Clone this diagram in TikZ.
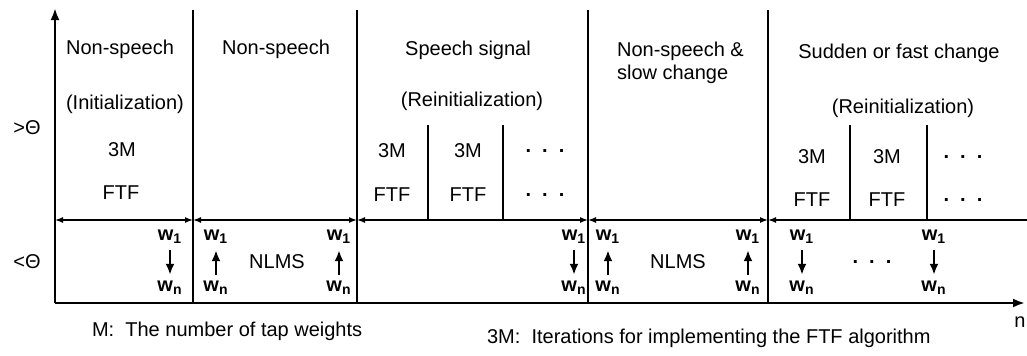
\documentclass[tikz,border=0pt]{standalone}
\usepackage{fontspec}
\setmainfont{Liberation Sans}
\usepackage{tikz}
\usetikzlibrary{arrows.meta}

\tikzset{
  axis/.style={line width=1.3pt, -{Latex[length=6pt,width=4.5pt]}},
  divider/.style={line width=1.3pt},
  span/.style={line width=0.7pt, {Latex[length=4pt,width=3pt]}-{Latex[length=4pt,width=3pt]}},
  wlabel/.style={font=\bfseries, inner sep=0.5pt},
  wstep/.style={line width=1.4pt, -{Latex[length=5.5pt,width=4.5pt]}, shorten <=2.5pt, shorten >=2.5pt},
  dots/.style={font=\bfseries, inner sep=0pt},
}

\begin{document}
\begin{tikzpicture}[x=0.5pt, y=-0.5pt, font=\fontsize{10}{11.5}\selectfont]
\useasboundingbox (0,0) rectangle (1027,355);
\draw [axis] (55,303) -- (55,8);
\draw [axis] (55,303) -- (1025,303);
\node (n) at (1027,322) [anchor=east, inner sep=0.5pt] {n};
\foreach \x in {193,357,588,768}
\draw [divider] (\x,10) -- (\x,303);
\foreach \x in {428,503,850,927}
\draw [divider] (\x,125) -- (\x,220);
\draw [span] (55,220) -- (193,220);
\draw [span] (193,220) -- (357,220);
\draw [span] (357,220) -- (588,220);
\draw [span] (588,220) -- (768,220);
\draw [line width=0.7pt, {Latex[length=4pt,width=3pt]}-] (768,220) -- (1027,220);
\node (above) at (27,128) {>Θ};
\node (below) at (27,262) {<Θ};
% upper row
\node (ns1) at (120,49) {Non-speech};
\node (init) at (125,104) {(Initialization)};
\node (m1) at (122,150) {3M};
\node (f1) at (121,193) {FTF};
\node (ns2) at (276,49) {Non-speech};
\node (sp) at (468,50) {Speech signal};
\node (reinit1) at (472,101) {(Reinitialization)};
\node (m2) at (392,151) {3M};
\node (m3) at (468,151) {3M};
\node [dots] (d1) at (545,151) {.~~.~~.};
\node (f2) at (392,195) {FTF};
\node (f3) at (468,195) {FTF};
\node [dots] (d2) at (545,195) {.~~.~~.};
\node (ns3) at (610,63) [anchor=west, align=left] {Non-speech \&\\slow change};
\node (sud) at (899,53) {Sudden or fast change};
\node (reinit2) at (903,108) {(Reinitialization)};
\node (m4) at (812,157) {3M};
\node (m5) at (887,157) {3M};
\node [dots] (d3) at (963,157) {.~~.~~.};
\node (f4) at (812,200) {FTF};
\node (f5) at (887,200) {FTF};
\node [dots] (d4) at (963,200) {.~~.~~.};
% lower row
\foreach \name/\x in {a/170,b/216,c/339,d/574,e/608,f/748,g/802,h/934} {
\node [wlabel] (w1\name) at (\x,237) {w\textsubscript{1}};
\node [wlabel] (wn\name) at (\x,288) {w\textsubscript{n}};
}
\foreach \name in {a,d,g,h}
\draw [wstep] (w1\name) -- (wn\name);
\foreach \name in {b,c,e,f}
\draw [wstep] (wn\name) -- (w1\name);
\node (nlms1) at (277,262) {NLMS};
\node (nlms2) at (678,262) {NLMS};
\node [dots] (d5) at (872,262) {.~~.~~.};
\node (mnote) at (85,331) [anchor=west] {M:\ \ The number of tap weights};
\node (tmnote) at (480,338) [anchor=west] {3M:\ \ Iterations for implementing the FTF algorithm};
\end{tikzpicture}
\end{document}
